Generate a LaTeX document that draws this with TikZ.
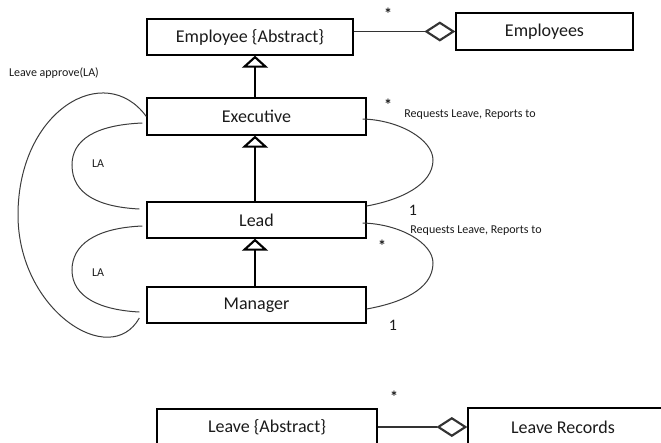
\documentclass[tikz,border=0pt]{standalone}
\usepackage{fontspec}
\setmainfont{Carlito}
\usetikzlibrary{arrows.meta,calc}
\definecolor{ink}{HTML}{1A1A1A}
\definecolor{curve}{HTML}{3C3C3C}
\begin{document}
\begin{tikzpicture}[x=0.75pt,y=-0.75pt,
  box/.style={draw=black,line width=1pt,rectangle,inner sep=0pt,
    font=\fontsize{13.5}{15}\selectfont,text=ink},
  inherit/.style={draw=black,line width=0.9pt,
    -{Triangle[open,length=12*0.75pt,width=26*0.75pt,line width=1.6pt]}},
  aggregate/.style={draw=black!80,line width=0.9pt,
    -{Diamond[open,length=31*0.75pt,width=20*0.75pt,line width=1.6pt]}},
  loopline/.style={draw=curve,line width=0.75pt},
  small/.style={font=\fontsize{9}{10}\selectfont,text=ink,inner sep=0pt},
  mult/.style={font=\fontsize{12}{13}\selectfont,text=ink,inner sep=0pt},
  star/.style={font=\fontsize{12}{13}\selectfont\bfseries,text=ink,inner sep=0pt}]
\clip (0,0) rectangle (661,443);
\useasboundingbox (0,0) rectangle (661,443);

% classes
\node[box,minimum width={206*0.75pt},minimum height={36*0.75pt}] (employee) at (250,37) {Employee \{Abstract\}};
\node[box,minimum width={177*0.75pt},minimum height={37*0.75pt}] (employees) at (544.5,31.5) {Employees};
\node[box,minimum width={219*0.75pt},minimum height={37*0.75pt}] (executive) at (256.5,116.5) {Executive};
\node[box,minimum width={219*0.75pt},minimum height={36*0.75pt}] (lead) at (256.5,220) {Lead};
\node[box,minimum width={219*0.75pt},minimum height={36*0.75pt}] (manager) at (256.5,305) {Manager};
\node[box,minimum width={220*0.75pt},minimum height={36*0.75pt}] (leave) at (267,427) {Leave \{Abstract\}};
\node[box,minimum width={230*0.75pt},minimum height={38*0.75pt}] (records) at (583,427) {};
\node[box,draw=none] (recordsname) at (563,427) {Leave Records};

% generalisation
\draw[inherit] ([xshift=-1.5*0.75pt]executive.north) -- ([xshift=-1.5*0.75pt]executive.north |- employee.south);
\draw[inherit] ([xshift=-1.5*0.75pt]lead.north) -- ([xshift=-1.5*0.75pt]lead.north |- executive.south);
\draw[inherit] ([xshift=-1.5*0.75pt]manager.north) -- ([xshift=-1.5*0.75pt]manager.north |- lead.south);

% aggregation
\draw[aggregate] (employee.east |- employees.west) -- (employees.west);
\draw[aggregate] (leave.east) -- (records.west);
\node[star] (s1) at (388,14) {*};
\node[star] (s4) at (394,397) {*};

% leave approval loops on the left
\draw[loopline] (executive.west) .. controls (105,60) and (18,110) .. (18,215)
  .. controls (18,310) and (110,370) .. ([shift={(-7,13)}]manager.west);
\draw[loopline] ([shift={(-4,6.5)}]executive.west) .. controls (95,125) and (72,140) .. (72,165)
  .. controls (72,195) and (100,207) .. ([shift={(-7,-11)}]lead.west);
\draw[loopline] ([shift={(-4,6)}]lead.west) .. controls (95,228) and (72,245) .. (72,270)
  .. controls (72,297) and (100,310) .. ([shift={(-7,7)}]manager.west);
\node[small] (la0) at (54,73) {Leave approve(LA)};
\node[small] (la1) at (98,164) {LA};
\node[small] (la2) at (98,273) {LA};

% reporting loops on the right
\draw[loopline] ([shift={(-4,2.5)}]executive.east) .. controls (400,120) and (433,140) .. (433,160)
  .. controls (433,185) and (400,200) .. ([shift={(0,-14)}]lead.east);
\draw[loopline] ([shift={(-4,3)}]lead.east) .. controls (400,224) and (433,243) .. (433,263)
  .. controls (433,290) and (400,303) .. ([shift={(0,4)}]manager.east);
\node[star] (s2) at (388,105) {*};
\node[small] (r1) at (470,115) {Requests Leave, Reports to};
\node[mult] (m1) at (413,210) {1};
\node[small] (r2) at (476,231) {Requests Leave, Reports to};
\node[star] (s3) at (382,246) {*};
\node[mult] (m2) at (393,325) {1};
\end{tikzpicture}
\end{document}
